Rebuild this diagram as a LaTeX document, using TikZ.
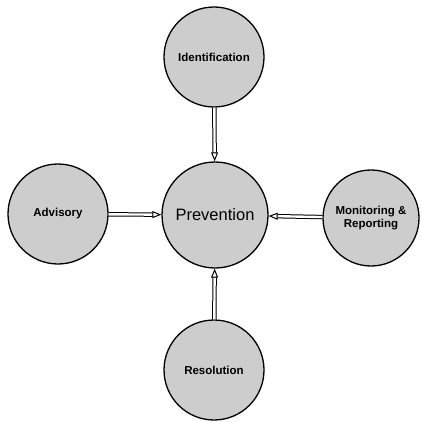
\documentclass[tikz,border=0pt]{standalone}
\usepackage{fontspec}
\setmainfont{Liberation Sans}
\usetikzlibrary{arrows.meta}
\definecolor{stipple}{RGB}{205,205,205}

\begin{document}
\begin{tikzpicture}[x=1pt, y=-1pt,
    area/.style={circle, draw, line width=1.3pt, fill=stipple, inner sep=0pt, minimum size=100pt,
        align=center, font=\bfseries\fontsize{11.5}{13}\selectfont},
    feed/.style={double, double distance=2.4pt, line width=1pt,
        -{Triangle[open, length=9pt, width=7pt, line width=1pt]}}]
    \useasboundingbox (0,0) rectangle (422,422);

    % Centre
    \node[area, minimum size=106pt, font=\fontsize{16.5}{19}\selectfont] (prev) at (215,215) {Prevention};

    % Surrounding areas
    \node[area] (ident) at (214,57) {Identification};
    \node[area] (adv) at (58,214) {Advisory};
    \node[area, minimum size=96pt] (mon) at (371,218) {Monitoring \&\\Reporting};
    \node[area] (res) at (214,370) {Resolution};

    % Links into the centre
    \foreach \src in {ident, adv, mon, res} {
        \draw[feed] (\src) -- (prev);
    }
\end{tikzpicture}
\end{document}
